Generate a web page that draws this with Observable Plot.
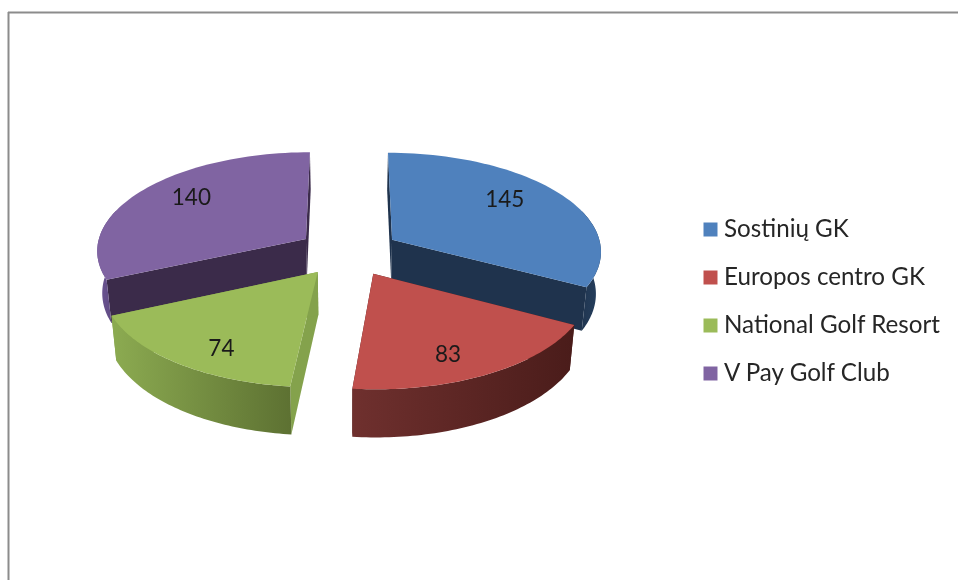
<!DOCTYPE html>
<html><head><meta charset="utf-8">
<script src="https://cdn.jsdelivr.net/npm/d3@7"></script>
<script src="https://cdn.jsdelivr.net/npm/@observablehq/plot@0.6"></script>
<style>html,body{margin:0;padding:0;background:#fff}svg{display:block;filter:blur(0.4px)}</style>
</head><body><div id="chart"></div>
<script>
const names = ["Sostinių GK","Europos centro GK","National Golf Resort","V Pay Golf Club"];
const values = [145,83,74,140];
const colors = ["#4f81bd","#c0504d","#9bbb59","#8064a2"];
const cutColors = ["#1f334d","#4c1d1b","#84a24c","#3b2b4a"];
const wallGradients = [["#1f334d","#26405f"],["#6f302e","#4a1c1a"],["#8cab51","#5d7132"],["#6d5695","#584477"]];
const labelRadius = [0.91,0.92,0.95,0.94];
const labelLift = [16,17.5,18,12];

const W=958,H=580, cx=348, cy=251.5, R=210, K=98.5, p=0.105, d=0.245, h=42, shrink=0.98;
const project=(X,U,bottom=false)=>{
  const s=1/(1+p*U);
  let x=R*X*s, y=-K*U*s;
  if(bottom){x*=shrink; y+=h*s;}
  return {x:cx+x,y:cy+y};
};
const arcs=d3.pie().sort(null)(values);
const slices=arcs.map((a,i)=>{
  const m=(a.startAngle+a.endAngle)/2, ox=d*Math.sin(m), oy=d*Math.cos(m);
  const pt=(t,r=1,b=false)=>project(ox+r*Math.sin(t),oy+r*Math.cos(t),b);
  const rim=(t0,t1)=>d3.range(61).map(k=>t0+(t1-t0)*k/60);
  const name=names[i];
  const apex=pt(0,0), apexB=pt(0,0,true);
  const cut=t=>[apex,pt(t),pt(t,1,true),apexB].map(q=>({...q,name}));
  const t0=Math.max(a.startAngle,Math.PI*0.4), t1=Math.min(a.endAngle,Math.PI*1.6);
  const wall=[...rim(t0,t1).map(t=>pt(t)),...rim(t1,t0).map(t=>pt(t,1,true))].map(q=>({...q,name}));
  const top=[apex,...rim(a.startAngle,a.endAngle).map(t=>pt(t))].map(q=>({...q,name}));
  return {i,name,m,cuts:[cut(a.startAngle),cut(a.endAngle)],wall,top};
});
const drawOrder=[3,0,2,1];
const labelPos=labelRadius.map((r,i)=>{
  const s=slices[i], q=project(r*Math.sin(s.m),r*Math.cos(s.m));
  return {x:q.x,y:q.y-Math.cos(s.m)*labelLift[i],v:values[i]};
});
const legendRows=names.map((name,i)=>({name,y:229+i*48}));
const defs=()=>{
  const g=d3.create("svg:defs");
  wallGradients.forEach((c,i)=>{
    const lg=g.append("linearGradient").attr("id","wall"+i);
    lg.append("stop").attr("offset","0%").attr("stop-color",c[0]);
    lg.append("stop").attr("offset","100%").attr("stop-color",c[1]);
  });
  return g.node();
};
const face=(pts,fill)=>Plot.line(pts,{x:"x",y:"y",fill,stroke:"none"});
const marks=[defs,
  Plot.ruleY([12],{x1:8,x2:W,stroke:"#8c8c8c",strokeWidth:2}),
  Plot.ruleX([8],{y1:12,y2:H,stroke:"#8c8c8c",strokeWidth:2})];
for(const i of drawOrder){
  const s=slices[i];
  marks.push(face(s.cuts[0],cutColors[i]),face(s.cuts[1],cutColors[i]));
  marks.push(face(s.wall,`url(#wall${i})`));
  marks.push(Plot.line(s.top,{x:"x",y:"y",fill:"name",stroke:"none"}));
}
const font="Lato, Carlito, sans-serif";
marks.push(Plot.text(labelPos,{x:"x",y:"y",text:"v",fontSize:22.5,fontFamily:font,fill:"#1a1a1a"}));
marks.push(Plot.dot(legendRows,{x:()=>710,y:"y",fill:"name",symbol:"square",r:7.9}));
marks.push(Plot.text(legendRows,{x:()=>723.5,y:"y",text:"name",textAnchor:"start",fontSize:24.2,fontFamily:font,fill:"#262626"}));
const chart=Plot.plot({width:W,height:H,margin:0,
  x:{domain:[0,W],range:[0,W],axis:null},
  y:{domain:[0,H],range:[0,H],axis:null},
  color:{domain:names,range:colors},
  marks});
document.getElementById("chart").append(chart);
</script></body></html>
